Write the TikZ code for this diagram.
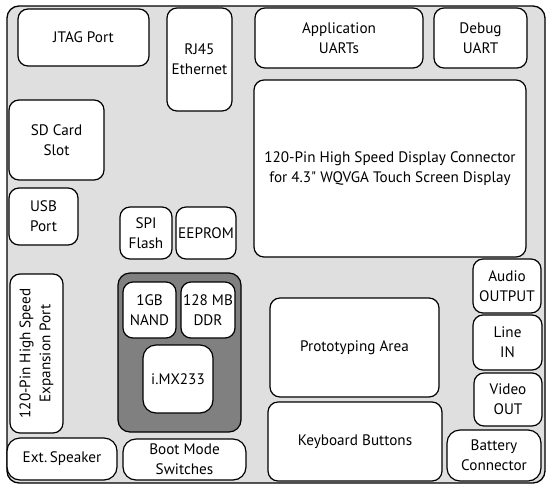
\documentclass[tikz,border=0pt]{standalone}
\usepackage{fontspec}
\setmainfont{PT Sans}
\begin{document}
\begin{tikzpicture}[x=1pt,y=-1pt,
  box/.style={draw=black, fill=white, line width=1.2pt, rounded corners=10pt,
    align=center, inner sep=0pt, font=\fontsize{15.2}{20}\selectfont},
  board/.style={draw=black, fill=gray!25, line width=1.3pt, rounded corners=12pt, inner sep=0pt},
  group/.style={draw=black, fill=black!50, line width=1.2pt, rounded corners=12pt, inner sep=0pt}]
\useasboundingbox (0,0) rectangle (553,493);
\node[board, minimum width=538pt, minimum height=477pt] (board) at (276,244.5) {};
\node[box, minimum width=131pt, minimum height=57pt] (jtag) at (83.5,37.5) {JTAG Port};
\node[box, minimum width=65pt, minimum height=103pt] (rj45) at (199.5,59.5) {RJ45\\Ethernet};
\node[box, minimum width=168pt, minimum height=60pt] (appuart) at (339,38) {Application\\UARTs};
\node[box, minimum width=93pt, minimum height=60pt] (debug) at (480.5,38) {Debug\\UART};
\node[box, minimum width=272pt, minimum height=177pt] (display) at (390,168.5) {120-Pin High Speed Display Connector\\for 4.3\textquotedbl{} WQVGA Touch Screen Display};
\node[box, minimum width=95pt, minimum height=80pt] (sd) at (56.5,140) {SD Card\\Slot};
\node[box, minimum width=69pt, minimum height=57pt] (usb) at (43.5,216.5) {USB\\Port};
\node[box, minimum width=52pt, minimum height=52pt] (spi) at (146,233) {SPI\\Flash};
\node[box, minimum width=60pt, minimum height=52pt] (eeprom) at (206,233) {EEPROM};
\node[box, rotate=90, minimum width=159pt, minimum height=53pt] (exp) at (36.5,353.5) {120-Pin High Speed\\Expansion Port};
\node[group, minimum width=123pt, minimum height=159pt] (cpu) at (179.5,352.5) {};
\node[box, minimum width=53pt, minimum height=56pt] (nand) at (149.5,310) {1GB\\NAND};
\node[box, minimum width=54pt, minimum height=56pt] (ddr) at (208,310) {128 MB\\DDR};
\node[box, minimum width=70pt, minimum height=68pt, rounded corners=13pt] (imx) at (178,379) {i.MX233};
\node[box, minimum width=110pt, minimum height=42pt, rounded corners=13pt] (speaker) at (62,459) {Ext.\thinspace Speaker};
\node[box, minimum width=123pt, minimum height=41pt, rounded corners=13pt] (boot) at (184.5,459.5) {Boot Mode\\Switches};
\node[box, minimum width=169pt, minimum height=99pt] (proto) at (354.5,347.5) {Prototyping Area};
\node[box, minimum width=174pt, minimum height=79pt] (keyb) at (355,441.5) {Keyboard Buttons};
\node[box, minimum width=68pt, minimum height=54pt] (audio) at (507,286) {Audio\\OUTPUT};
\node[box, minimum width=69pt, minimum height=55pt] (line) at (507.5,342.5) {Line\\IN};
\node[box, minimum width=68pt, minimum height=53pt] (video) at (508,399.5) {Video\\OUT};
\node[box, minimum width=94pt, minimum height=51pt, rounded corners=13pt] (battery) at (494,455.5) {Battery\\Connector};
\end{tikzpicture}
\end{document}
